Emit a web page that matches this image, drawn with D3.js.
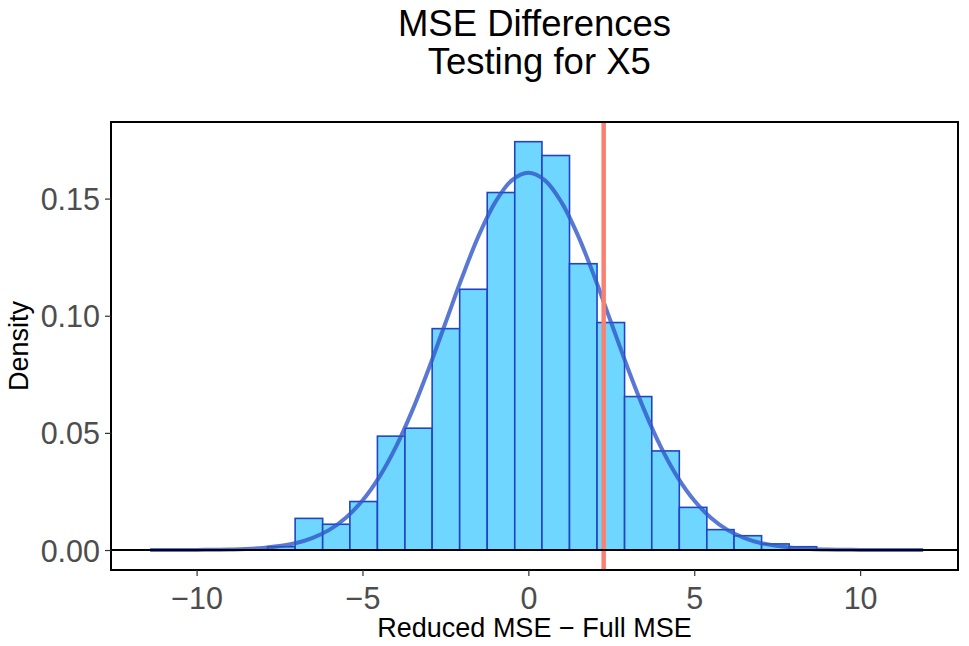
<!DOCTYPE html>
<html>
<head>
<meta charset="utf-8">
<script src="https://cdn.jsdelivr.net/npm/d3@7"></script>
<style>
  body { margin: 0; background: #fff; }
  text { font-family: "Liberation Sans", Arial, sans-serif; }
</style>
</head>
<body>
<div id="chart"></div>
<script>
// histogram bins (left edges, last value is the right edge of the last bin)
const binEdges = [-10.34, -9.52, -8.69, -7.86, -7.03, -6.20, -5.38, -4.55, -3.72, -2.90,
                  -2.07, -1.24, -0.41, 0.41, 1.24, 2.07, 2.90, 3.72, 4.55, 5.38,
                  6.20, 7.03, 7.86, 8.69, 9.52, 10.34];
const binDensity = [0, 0, 0, 0.0014, 0.0135, 0.0110, 0.0207, 0.0486, 0.0520,
                    0.0945, 0.1113, 0.1526, 0.1743, 0.1684, 0.1222, 0.0971, 0.0655,
                    0.0423, 0.0182, 0.0087, 0.0061, 0.0026, 0.0014, 0, 0];

// fitted density curve
const curveX = [-11.4, -10, -9, -8, -7, -6.5, -6, -5.5, -5, -4.5, -4, -3.5, -3, -2.5, -2,
                -1.5, -1, -0.5, 0, 0.5, 1, 1.5, 2, 2.5, 3, 3.5, 4, 4.5, 5, 5.5, 6, 6.5,
                7, 8, 9, 10, 11.9];
const curveY = [0, 0.00005, 0.0002, 0.0009, 0.0030, 0.0052, 0.0086, 0.0138, 0.0211,
                0.0310, 0.0438, 0.0595, 0.0775, 0.0969, 0.1163, 0.1341, 0.1484, 0.1578,
                0.1610, 0.1578, 0.1484, 0.1341, 0.1163, 0.0969, 0.0775, 0.0595, 0.0438,
                0.0310, 0.0211, 0.0138, 0.0086, 0.0052, 0.0030, 0.0009, 0.0002, 0.00005, 0];

const observed = 2.27;   // red reference line
const xTicks = [-10, -5, 0, 5, 10];
const yTicks = [0, 0.05, 0.10, 0.15];

const width = 969;
const height = 646;
const margin = {top: 122, right: 11, bottom: 76, left: 111};

const x = d3.scaleLinear()
    .domain([-12.58, 12.95])
    .range([margin.left, width - margin.right]);

const y = d3.scaleLinear()
    .domain([-0.00853, 0.1827])
    .range([height - margin.bottom, margin.top]);

const svg = d3.select("#chart").append("svg")
    .attr("width", width)
    .attr("height", height);

const bins = binDensity.map((d, i) => ({x0: binEdges[i], x1: binEdges[i + 1], value: d}));

// bars
svg.append("g")
    .selectAll("rect")
    .data(bins)
    .join("rect")
    .attr("x", d => x(d.x0))
    .attr("y", d => y(d.value))
    .attr("width", d => x(d.x1) - x(d.x0))
    .attr("height", d => y(0) - y(d.value))
    .attr("fill", "#6fd6ff")
    .attr("stroke", "#2144c4")
    .attr("stroke-width", 1.6);

// density curve
const line = d3.line()
    .x((d, i) => x(curveX[i]))
    .y(d => y(d))
    .curve(d3.curveCatmullRom.alpha(0.5));

svg.append("path")
    .datum(curveY)
    .attr("fill", "none")
    .attr("stroke", "#2f56c8")
    .attr("stroke-opacity", 0.8)
    .attr("stroke-width", 4)
    .attr("d", line);

// observed difference
svg.append("line")
    .attr("x1", x(observed)).attr("x2", x(observed))
    .attr("y1", margin.top).attr("y2", height - margin.bottom)
    .attr("stroke", "#fa8072")
    .attr("stroke-width", 4.5);

// zero line
svg.append("line")
    .attr("x1", margin.left).attr("x2", width - margin.right)
    .attr("y1", y(0)).attr("y2", y(0))
    .attr("stroke", "#000")
    .attr("stroke-width", 1.8);

// panel border
svg.append("rect")
    .attr("x", margin.left)
    .attr("y", margin.top)
    .attr("width", width - margin.left - margin.right)
    .attr("height", height - margin.top - margin.bottom)
    .attr("fill", "none")
    .attr("stroke", "#000")
    .attr("stroke-width", 2);

// axes
const xAxis = svg.append("g")
    .attr("transform", `translate(0,${height - margin.bottom})`)
    .call(d3.axisBottom(x).tickValues(xTicks).tickSize(6).tickPadding(5)
        .tickFormat(d => d < 0 ? "\u2212" + Math.abs(d) : d));
xAxis.select(".domain").remove();
xAxis.selectAll(".tick line").attr("stroke", "#333").attr("stroke-width", 1.2);
xAxis.selectAll(".tick text")
    .attr("fill", "#4d4d4d")
    .style("font-size", "30.5px")
    .attr("dy", "0.92em");

const yAxis = svg.append("g")
    .attr("transform", `translate(${margin.left},0)`)
    .call(d3.axisLeft(y).tickValues(yTicks).tickSize(6).tickPadding(5)
        .tickFormat(d3.format(".2f")));
yAxis.select(".domain").remove();
yAxis.selectAll(".tick line").attr("stroke", "#333").attr("stroke-width", 1.2);
yAxis.selectAll(".tick text")
    .attr("fill", "#4d4d4d")
    .style("font-size", "30.5px")
    .attr("dy", "0.36em");

// axis titles
const panelMid = (margin.left + width - margin.right) / 2;

svg.append("text")
    .attr("x", panelMid)
    .attr("y", 637)
    .attr("text-anchor", "middle")
    .style("font-size", "27px")
    .text("Reduced MSE \u2212 Full MSE");

svg.append("text")
    .attr("transform", `translate(28,${(margin.top + height - margin.bottom) / 2}) rotate(-90)`)
    .attr("text-anchor", "middle")
    .style("font-size", "27px")
    .text("Density");

// title
svg.append("text")
    .attr("x", panelMid)
    .attr("y", 36)
    .attr("text-anchor", "middle")
    .style("font-size", "36.5px")
    .text("MSE Differences");

svg.append("text")
    .attr("x", panelMid)
    .attr("y", 74)
    .attr("text-anchor", "middle")
    .style("font-size", "36.5px")
    .style("white-space", "pre")
    .text(" Testing for X5");
</script>
</body>
</html>
